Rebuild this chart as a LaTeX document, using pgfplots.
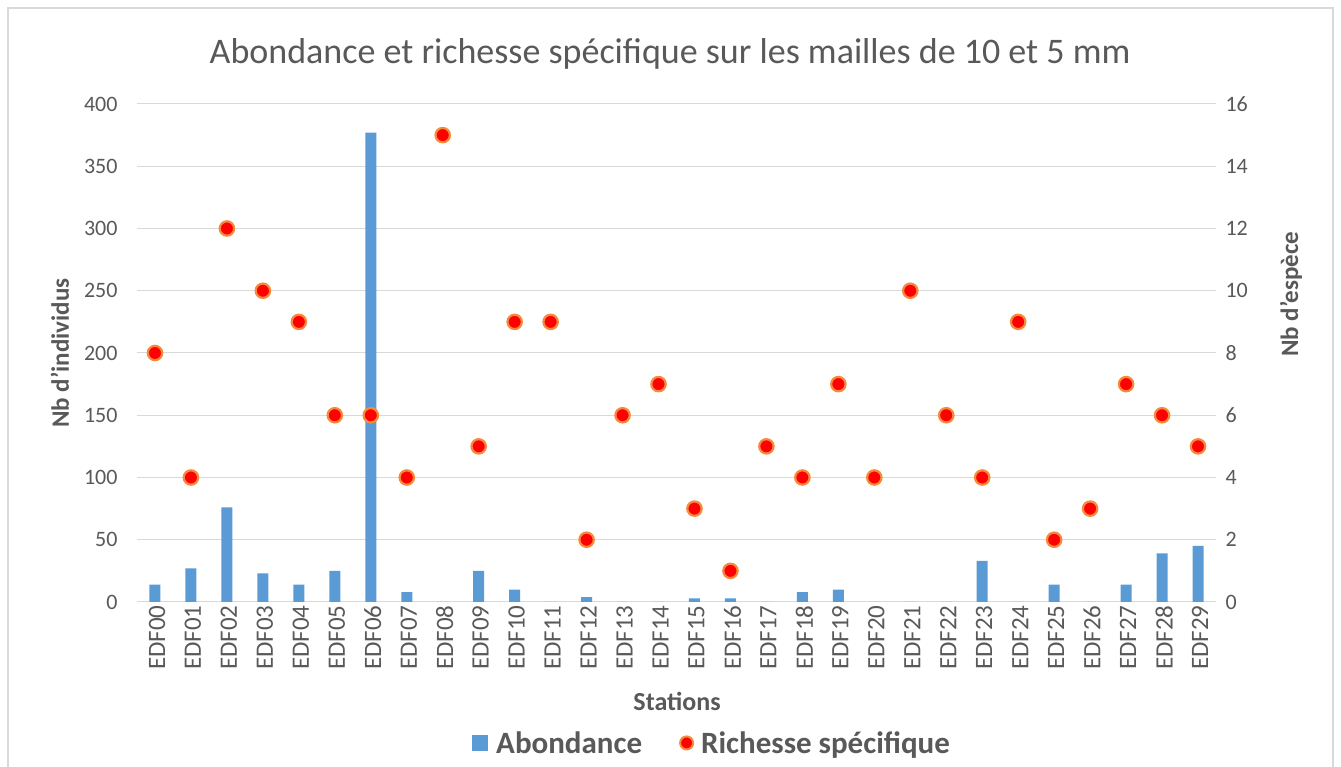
\documentclass[border=0pt]{standalone}
\usepackage{fontspec}
\setmainfont{Carlito}
\usepackage{pgfplots}
\usepackage{pgfplotstable}
\pgfplotsset{compat=1.18}

\definecolor{barblue}{HTML}{5B9BD5}
\definecolor{txtgray}{HTML}{595959}
\definecolor{gridgray}{HTML}{D9D9D9}
\definecolor{dotedge}{HTML}{F58A3C}

% station index, abondance, richesse specifique
\pgfplotstableread{
idx ab ri
0 14 8
1 27 4
2 76 12
3 23 10
4 14 9
5 25 6
6 377 6
7 8 4
8 0 15
9 25 5
10 10 9
11 0 9
12 4 2
13 0 6
14 0 7
15 3 3
16 3 1
17 0 5
18 8 4
19 10 7
20 0 4
21 0 10
22 0 6
23 33 4
24 0 9
25 14 2
26 0 3
27 14 7
28 39 6
29 45 5
}\stations

\pgfplotsset{
  common/.style={
    at={(0pt,0pt)}, anchor=south west,
    scale only axis, width=1079pt, height=498pt,
    xmin=-0.5, xmax=29.5,
    ymin=0,
    major tick length=0pt,
    tick label style={font=\fontsize{22}{26}\selectfont, text=txtgray},
    /pgf/number format/assume math mode=true,
  },
}

\begin{document}
\begin{tikzpicture}
\useasboundingbox (-137pt,-165pt) rectangle (1204pt,602pt);
\fill[white] (-137pt,-165pt) rectangle (1204pt,602pt);
\draw[gridgray, line width=2pt] (-129pt,-180pt) -- (-129pt,594pt) -- (1196pt,594pt) -- (1196pt,-180pt);

\begin{axis}[common,
  ymax=400, ytick={0,50,...,400},
  axis x line*=bottom, axis y line*=left,
  x axis line style={draw=gridgray, line width=1pt, -},
  y axis line style={draw=none},
  ymajorgrids, grid style={gridgray, line width=1pt},
  xtick={0,...,29},
  xticklabels={EDF00,EDF01,EDF02,EDF03,EDF04,EDF05,EDF06,EDF07,EDF08,EDF09,EDF10,EDF11,EDF12,EDF13,EDF14,EDF15,EDF16,EDF17,EDF18,EDF19,EDF20,EDF21,EDF22,EDF23,EDF24,EDF25,EDF26,EDF27,EDF28,EDF29},
  xticklabel style={rotate=90, anchor=east, font=\fontsize{25}{28}\selectfont, yshift=-2pt},
  yticklabel style={anchor=east, xshift=-16pt},
  ylabel={Nb d'individus},
  ylabel style={at={(axis description cs:-0.0714,0.5)}, anchor=center, font=\bfseries\fontsize{25}{30}\selectfont, text=txtgray},
  xlabel={Stations},
  xlabel style={at={(axis description cs:0.5005,-0.199)}, anchor=center, font=\bfseries\fontsize{26}{30}\selectfont, text=txtgray},
  title={Abondance et richesse spécifique sur les mailles de 10 et 5 mm},
  title style={at={(axis description cs:0.494,1.088)}, anchor=center, font=\fontsize{36}{42}\selectfont, text=txtgray},
  legend style={at={(axis description cs:0.533,-0.283)}, anchor=center, draw=none, fill=none,
    legend columns=2, font=\bfseries\fontsize{31}{36}\selectfont, text=txtgray,
    /tikz/every even column/.append style={column sep=36pt}},
]
\addplot[ybar, bar width=11pt, fill=barblue, draw=none,
  legend image code/.code={\fill[barblue] (0pt,-8pt) rectangle (16pt,8pt);}]
  table[x=idx, y=ab] {\stations};
\addlegendentry{\hspace{6pt}Abondance}
\addlegendimage{only marks, mark=*, mark size=6.5pt, mark options={fill=red, draw=dotedge, line width=2pt}}
\addlegendentry{\hspace{6pt}Richesse spécifique}
\end{axis}

\begin{axis}[common,
  ymax=16, ytick={0,2,...,16},
  axis x line=none, axis y line*=right,
  y axis line style={draw=none},
  yticklabel style={anchor=west, xshift=6pt},
  ylabel={Nb d'espèce},
  ylabel style={at={(axis description cs:1.0695,0.618)}, anchor=center, rotate=0, font=\bfseries\fontsize{25}{30}\selectfont, text=txtgray},
]
\addplot[only marks, mark=*, mark size=7.2pt, mark options={fill=red, draw=dotedge, line width=2.2pt}]
  table[x=idx, y=ri] {\stations};
\end{axis}
\end{tikzpicture}
\end{document}
